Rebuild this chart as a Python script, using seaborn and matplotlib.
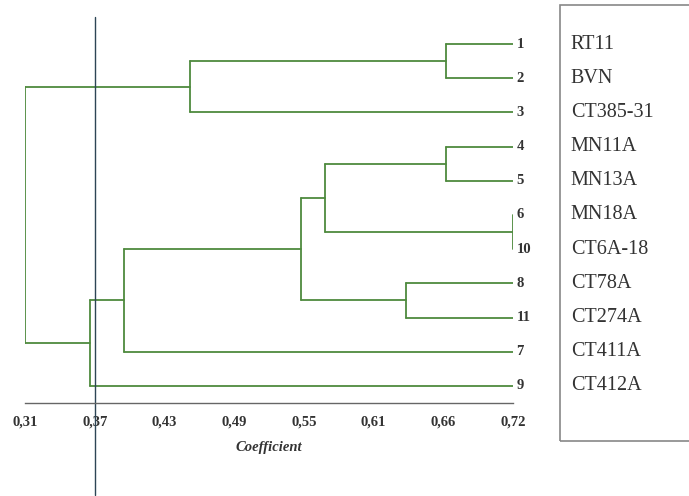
import matplotlib
matplotlib.use("Agg")
import matplotlib.pyplot as plt
import seaborn as sns
import pandas as pd
from matplotlib.patches import Rectangle

# ---- data ----
leaf_numbers = ["1", "2", "3", "4", "5", "6", "10", "8", "11", "7", "9"]
leaf_names = ["RT11", "BVN", "CT385-31", "MN11A", "MN13A", "MN18A",
              "CT6A-18", "CT78A", "CT274A", "CT411A", "CT412A"]
# merges (children by index: leaves 0..10 in display order, internal nodes from 11)
merge_left = [0, 3, 7, 5, 12, 15, 11, 16, 18, 17]
merge_right = [1, 4, 8, 6, 14, 13, 2, 9, 10, 19]
merge_height = [0.664, 0.664, 0.630, 0.720, 0.562, 0.542, 0.449, 0.393, 0.365, 0.31]
tick_values = [0.31, 0.3686, 0.4271, 0.4857, 0.5443, 0.6029, 0.6614, 0.72]
tick_labels = ["0,31", "0,37", "0,43", "0,49", "0,55", "0,61", "0,66", "0,72"]
cutoff = 0.369
xmax = 0.72

sns.set_theme(style="white")
plt.rcParams["font.family"] = ["Liberation Serif", "DejaVu Serif"]

# build the dendrogram segments from the merge table
n = len(leaf_numbers)
node_y = {i: float(i) for i in range(n)}
node_x = {i: xmax for i in range(n)}
rows = []
seg = 0
def add(xs, ys):
    global seg
    for x, y in zip(xs, ys):
        rows.append({"x": x, "y": y, "seg": seg})
    seg += 1

nid = n
for a, b, h in zip(merge_left, merge_right, merge_height):
    ya, yb = node_y[a], node_y[b]
    add([node_x[a], h], [ya, ya])
    add([node_x[b], h], [yb, yb])
    add([h, h], [ya, yb])
    node_y[nid] = (ya + yb) / 2
    node_x[nid] = h
    nid += 1

df = pd.DataFrame(rows)

fig = plt.figure(figsize=(6.89, 4.96), dpi=100)
ax = fig.add_axes([25 / 689, 93 / 496, (513 - 25) / 689, (403 - 17) / 496])
sns.lineplot(data=df, x="x", y="y", units="seg", estimator=None, sort=False,
             color="#4e8a3e", linewidth=1.3, ax=ax, legend=False)

ax.set_xlim(0.31, 0.72)
ax.set_ylim(10.5, -0.79)
ax.set_yticks([])
for s in ["top", "right", "left"]:
    ax.spines[s].set_visible(False)
ax.spines["bottom"].set_color("#666666")
ax.spines["bottom"].set_linewidth(1.0)
ax.set_xticks(tick_values)
ax.set_xticklabels(tick_labels, fontsize=10.5, fontweight="bold", color="#333333")
minor = []
for i in range(len(tick_values) - 1):
    d = (tick_values[i + 1] - tick_values[i]) / 3
    minor += [tick_values[i] + d, tick_values[i] + 2 * d]
ax.set_xticks(minor, minor=True)
ax.tick_params(axis="x", which="major", length=5, color="#666666", direction="in", pad=9)
ax.tick_params(axis="x", which="minor", length=3, color="#666666", direction="in")
ax.set_xlabel("Coefficient", fontsize=10.5, fontweight="bold", fontstyle="italic",
              color="#333333", labelpad=9)
ax.set_ylabel("")

# leaf numbers
for i, lab in enumerate(leaf_numbers):
    ax.text(xmax + 0.003, i, lab, fontsize=10.5, fontweight="bold", color="#333333",
            va="center", ha="left", clip_on=False)

# cutoff line
ax.axvline(cutoff, ymin=-0.238, ymax=1.0, color="#2d4555", linewidth=1.0, clip_on=False)

# legend box with names
fig.patches.append(Rectangle((560 / 689, (496 - 441) / 496), 140 / 689, 436 / 496,
                             transform=fig.transFigure, fill=False,
                             edgecolor="#888888", linewidth=1.2))
for i, name in enumerate(leaf_names):
    ax.text(0.72 + 0.0485, i, name, fontsize=14.5, color="#333333",
            va="center", ha="left", clip_on=False)

fig.savefig("out.png", dpi=100)
